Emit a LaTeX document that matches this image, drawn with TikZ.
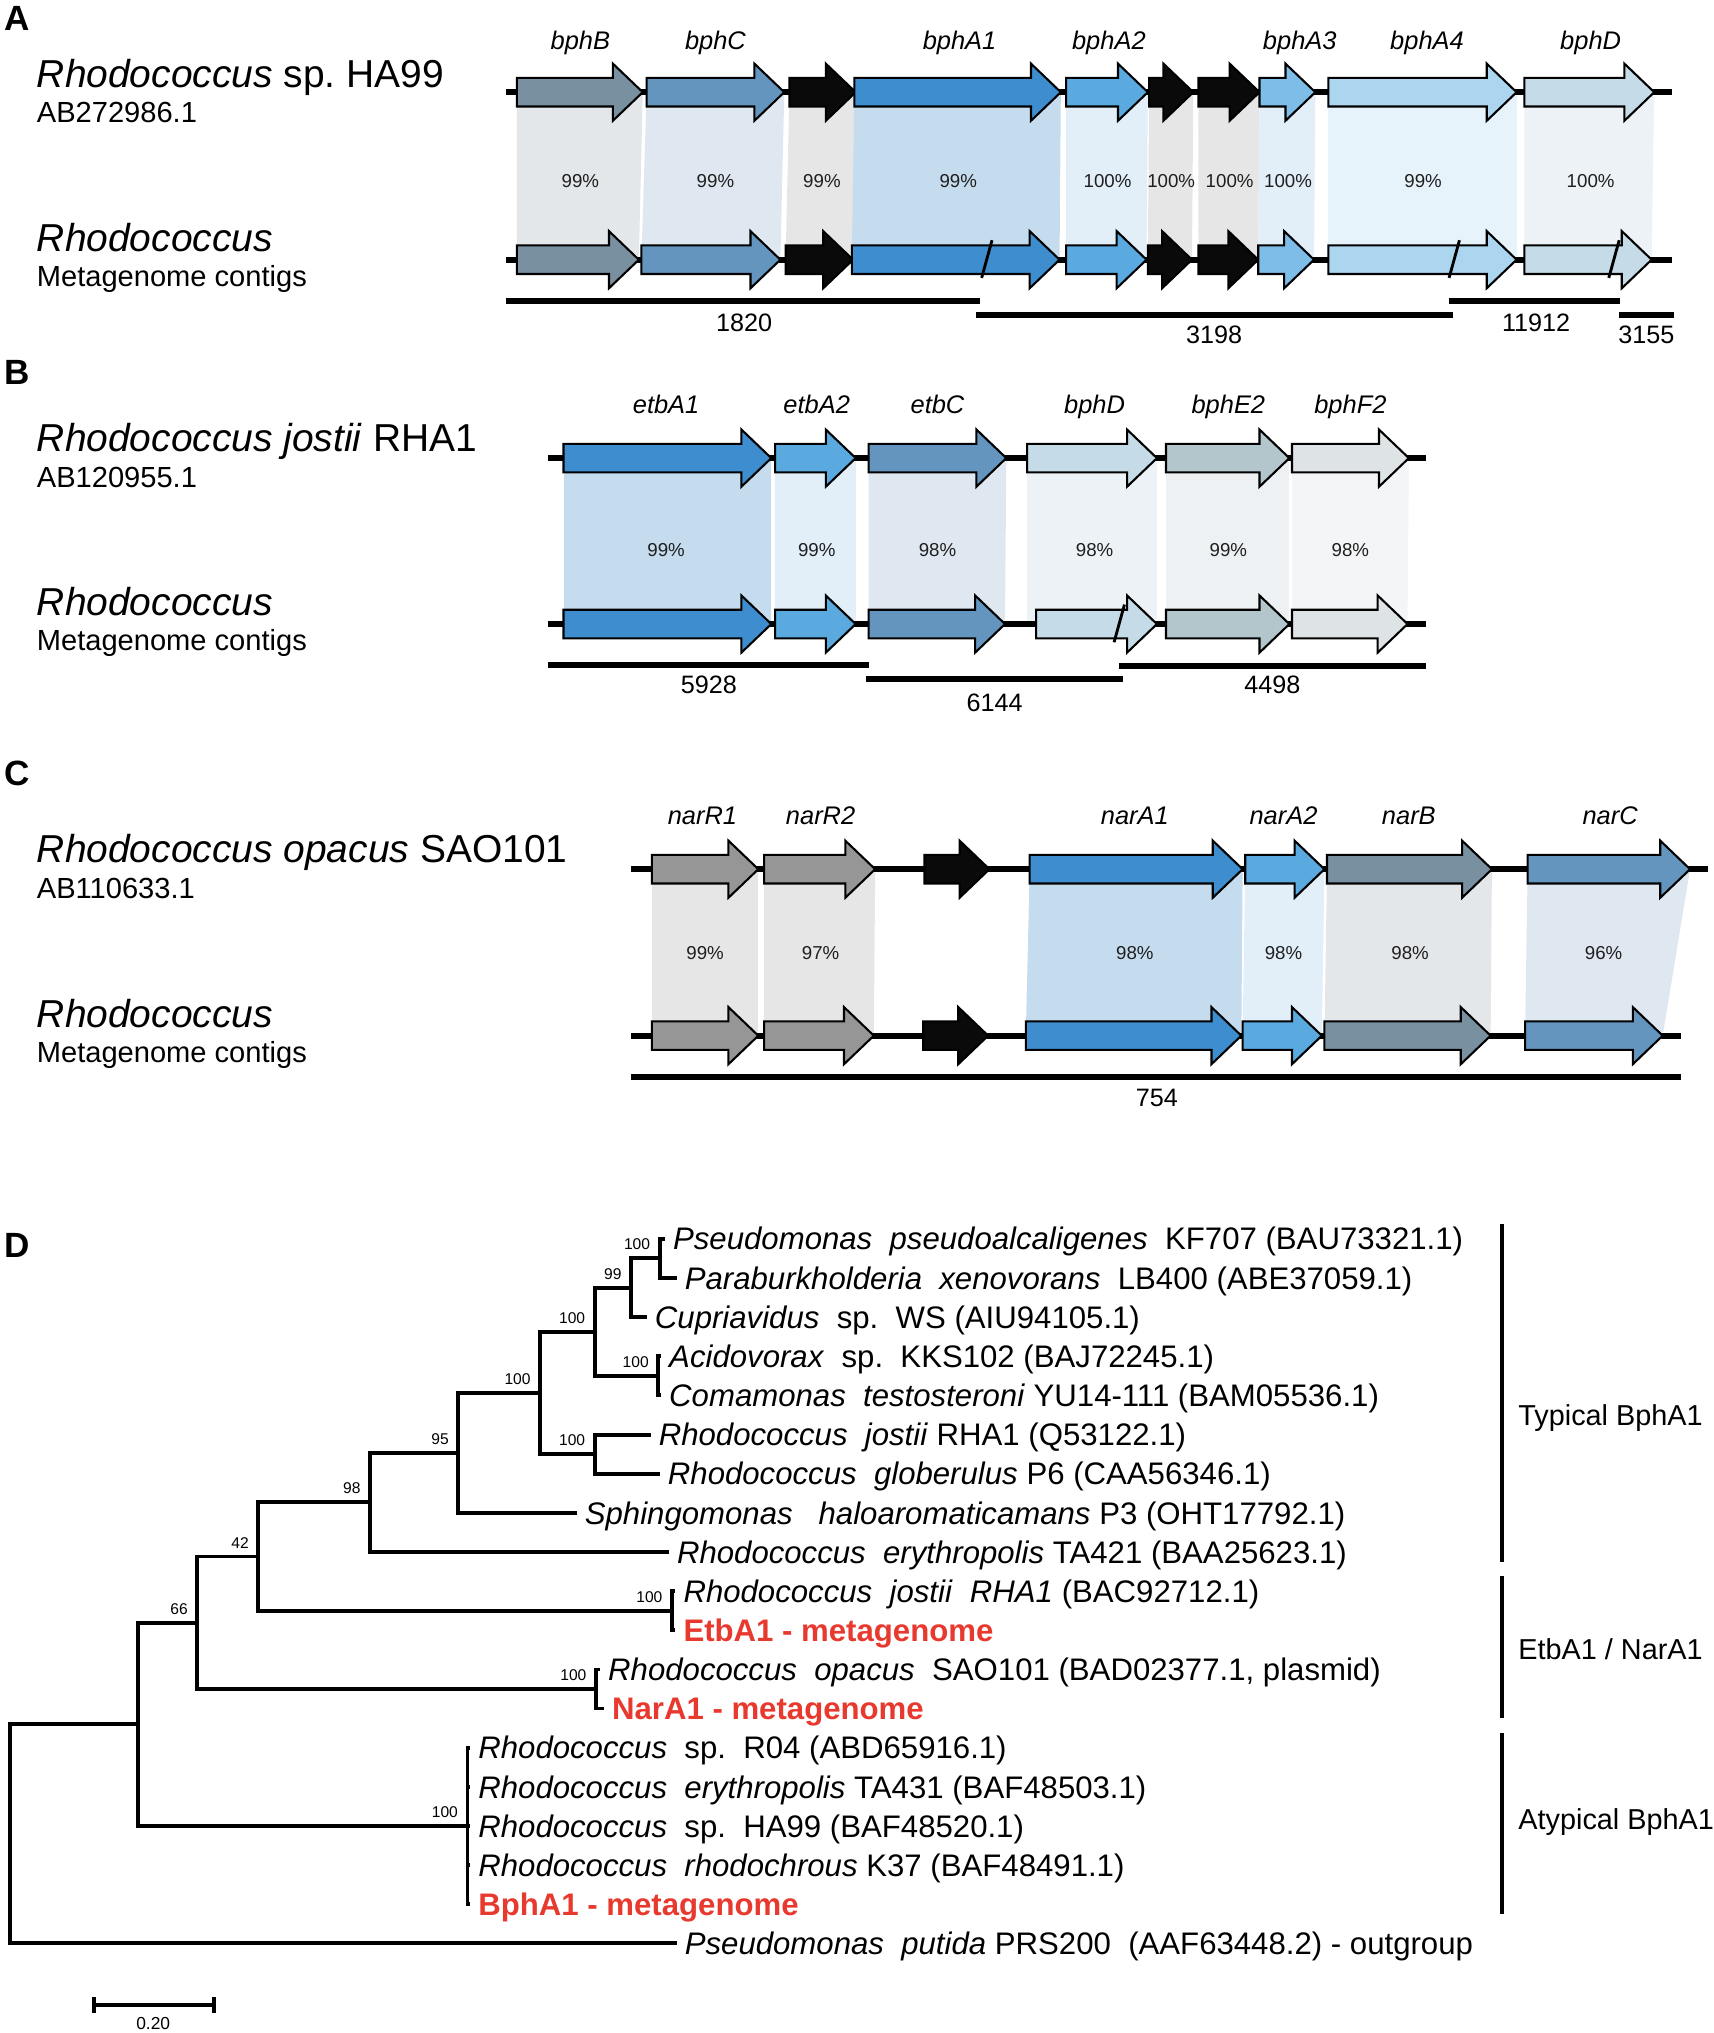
\documentclass[tikz,border=0pt]{standalone}
\usepackage{fontspec}
\setmainfont{Liberation Sans}
\usepackage{xcolor}
\frenchspacing

% gene colours
\definecolor{cdark}{HTML}{3D8DCF}
\definecolor{cmid}{HTML}{5AAAE0}
\definecolor{clight}{HTML}{7FBDE9}
\definecolor{cpale}{HTML}{ACD5EF}
\definecolor{cbphD}{HTML}{C5DCE8}
\definecolor{cslate}{HTML}{7890A0}
\definecolor{csteel}{HTML}{6395BF}
\definecolor{cbphE}{HTML}{B3C6CC}
\definecolor{cbphF}{HTML}{DEE3E6}
\definecolor{cgrey}{HTML}{969696}
\definecolor{cblack}{HTML}{0A0A0A}
% homology band colours
\definecolor{bdark}{HTML}{C5DCEF}
\definecolor{bmid}{HTML}{E2EFF9}
\definecolor{bpale}{HTML}{E6F3FB}
\definecolor{bbphD}{HTML}{ECF2F6}
\definecolor{bslate}{HTML}{E4E7EA}
\definecolor{bsteel}{HTML}{DFE8F0}
\definecolor{bgrey}{HTML}{E6E6E6}
\definecolor{bbphE}{HTML}{EEF1F3}
\definecolor{bbphF}{HTML}{F4F5F6}
\definecolor{metared}{HTML}{E8392F}

\newcommand{\genearrow}[4]{%
  \filldraw[fill=#1,draw=black,line width=0.8pt,line join=miter]
    (#2,#4-11) -- (#3-23,#4-11) -- (#3-23,#4-22) -- (#3,#4)
    -- (#3-23,#4+22) -- (#3-23,#4+11) -- (#2,#4+11) -- cycle;}
\newcommand{\homband}[7]{%
  \fill[#1] (#2,#6) -- (#3,#6) -- (#5,#7) -- (#4,#7) -- cycle;}
\newcommand{\cutmark}[2]{\draw[line width=1.1pt] (#1+4,#2-15) -- (#1-4,#2+14);}

\tikzset{
  track/.style={line width=2.2pt},
  contig/.style={line width=2.3pt},
  branch/.style={line width=1.5pt},
  panel/.style={font=\fontsize{13.5}{14}\selectfont\bfseries, inner sep=0pt},
  strain/.style={font=\fontsize{15}{16}\selectfont, anchor=base west, inner sep=0pt},
  accno/.style={font=\fontsize{11.2}{12}\selectfont, anchor=base west, inner sep=0pt},
  genename/.style={font=\fontsize{9.8}{10}\selectfont\itshape, anchor=base, inner sep=0pt},
  ident/.style={font=\fontsize{7.2}{8}\selectfont, anchor=base, inner sep=0pt, text=black!88},
  contiglbl/.style={font=\fontsize{9.7}{10}\selectfont, anchor=base, inner sep=0pt},
  leaf/.style={font=\fontsize{12}{13}\selectfont, anchor=west, inner xsep=3pt, inner ysep=0pt, text height=8.6pt, text depth=0pt},
  metaleaf/.style={leaf, text=metared, font=\fontsize{12}{13}\selectfont\bfseries},
  boot/.style={font=\fontsize{6}{7}\selectfont, anchor=south east, inner sep=0pt, xshift=-3.5pt, yshift=3pt},
  clade/.style={font=\fontsize{11.1}{12}\selectfont, anchor=west, inner sep=0pt},
}

\begin{document}
\begin{tikzpicture}[x=0.5pt, y=-0.5pt]
\useasboundingbox (0,0) rectangle (1320,1565.7);

% ---------------- A
\node[panel] (pA) at (13,14) {A};
\node[strain] (sA1) at (28,67) {\textit{Rhodococcus} sp. HA99};
\node[accno] (aA1) at (28,94.5) {AB272986.1};
\node[strain] (sA2) at (28,194) {\textit{Rhodococcus}};
\node[accno] (aA2) at (28,221) {Metagenome contigs};
\homband{bslate}{398}{495}{398}{492}{71}{200}
\homband{bsteel}{498}{604}{494}{601}{71}{200}
\homband{bgrey}{608}{659}{605}{657}{71}{200}
\homband{bdark}{658}{817}{656}{816}{71}{200}
\homband{bmid}{821}{884}{821}{883}{71}{200}
\homband{bgrey}{885}{919}{884}{918}{71}{200}
\homband{bgrey}{923}{970}{923}{969}{71}{200}
\homband{bmid}{970}{1013}{969}{1012}{71}{200}
\homband{bpale}{1023}{1168}{1023}{1168}{71}{200}
\homband{bbphD}{1174}{1274}{1174}{1272}{71}{200}
\draw[track] (390,71) -- (1288,71);
\draw[track] (390,200) -- (1288,200);
\genearrow{cslate}{398}{495}{71}
\genearrow{csteel}{498}{604}{71}
\genearrow{cblack}{608}{659}{71}
\genearrow{cdark}{658}{817}{71}
\genearrow{cmid}{821}{884}{71}
\genearrow{cblack}{885}{919}{71}
\genearrow{cblack}{923}{970}{71}
\genearrow{clight}{970}{1013}{71}
\genearrow{cpale}{1023}{1168}{71}
\genearrow{cbphD}{1174}{1274}{71}
\genearrow{cslate}{398}{492}{200}
\genearrow{csteel}{494}{601}{200}
\genearrow{cblack}{605}{657}{200}
\genearrow{cdark}{656}{816}{200}
\genearrow{cmid}{821}{883}{200}
\genearrow{cblack}{884}{918}{200}
\genearrow{cblack}{923}{969}{200}
\genearrow{clight}{969}{1012}{200}
\genearrow{cpale}{1023}{1168}{200}
\genearrow{cbphD}{1174}{1272}{200}
\cutmark{760}{200}
\cutmark{1120}{200}
\cutmark{1243}{200}
\node[genename] (gA1) at (447,38) {bphB};
\node[genename] (gA2) at (551,38) {bphC};
\node[genename] (gA3) at (739,38) {bphA1};
\node[genename] (gA4) at (854,38) {bphA2};
\node[genename] (gA5) at (1001,38) {bphA3};
\node[genename] (gA6) at (1099,38) {bphA4};
\node[genename] (gA7) at (1225,38) {bphD};
\node[ident] (iA1) at (447,144.5) {99\%};
\node[ident] (iA2) at (551,144.5) {99\%};
\node[ident] (iA3) at (633,144.5) {99\%};
\node[ident] (iA4) at (738,144.5) {99\%};
\node[ident] (iA5) at (853,144.5) {100\%};
\node[ident] (iA6) at (902,144.5) {100\%};
\node[ident] (iA7) at (947,144.5) {100\%};
\node[ident] (iA8) at (992,144.5) {100\%};
\node[ident] (iA9) at (1096,144.5) {99\%};
\node[ident] (iA10) at (1225,144.5) {100\%};
\draw[contig] (390,232) -- (755,232);
\draw[contig] (752,242.5) -- (1119,242.5);
\draw[contig] (1116,232) -- (1248,232);
\draw[contig] (1247,242.5) -- (1289,242.5);
\node[contiglbl] (cA1) at (573,255.4) {1820};
\node[contiglbl] (cA2) at (935,264.4) {3198};
\node[contiglbl] (cA3) at (1183,255.4) {11912};
\node[contiglbl] (cA4) at (1268,264.4) {3155};

% ---------------- B
\node[panel] (pB) at (13,287) {B};
\node[strain] (sB1) at (28,348) {\textit{Rhodococcus jostii} RHA1};
\node[accno] (aB1) at (28,375.3) {AB120955.1};
\node[strain] (sB2) at (28,474) {\textit{Rhodococcus}};
\node[accno] (aB2) at (28,501) {Metagenome contigs};
\homband{bdark}{434}{594}{434}{594}{352.8}{480.6}
\homband{bmid}{597}{659}{597}{659}{352.8}{480.6}
\homband{bsteel}{669}{775}{669}{774}{352.8}{480.6}
\homband{bbphD}{791}{891}{791}{891}{352.8}{480.6}
\homband{bbphE}{898}{993}{898}{993}{352.8}{480.6}
\homband{bbphF}{995}{1085}{995}{1084}{352.8}{480.6}
\draw[track] (422,352.8) -- (1098,352.8);
\draw[track] (422,480.6) -- (1098,480.6);
\genearrow{cdark}{434}{594}{352.8}
\genearrow{cmid}{597}{659}{352.8}
\genearrow{csteel}{669}{775}{352.8}
\genearrow{cbphD}{791}{891}{352.8}
\genearrow{cbphE}{898}{993}{352.8}
\genearrow{cbphF}{995}{1085}{352.8}
\genearrow{cdark}{434}{594}{480.6}
\genearrow{cmid}{597}{659}{480.6}
\genearrow{csteel}{669}{774}{480.6}
\genearrow{cbphD}{798}{891}{480.6}
\genearrow{cbphE}{898}{993}{480.6}
\genearrow{cbphF}{995}{1084}{480.6}
\cutmark{862}{480.6}
\node[genename] (gB1) at (513,318.5) {etbA1};
\node[genename] (gB2) at (629,318.5) {etbA2};
\node[genename] (gB3) at (722,318.5) {etbC};
\node[genename] (gB4) at (843,318.5) {bphD};
\node[genename] (gB5) at (946,318.5) {bphE2};
\node[genename] (gB6) at (1040,318.5) {bphF2};
\node[ident] (iB1) at (513,428.7) {99\%};
\node[ident] (iB2) at (629,428.7) {99\%};
\node[ident] (iB3) at (722,428.7) {98\%};
\node[ident] (iB4) at (843,428.7) {98\%};
\node[ident] (iB5) at (946,428.7) {99\%};
\node[ident] (iB6) at (1040,428.7) {98\%};
\draw[contig] (422,512) -- (669,512);
\draw[contig] (667,523) -- (865,523);
\draw[contig] (862,512.6) -- (1098,512.6);
\node[contiglbl] (cB1) at (546,533.8) {5928};
\node[contiglbl] (cB2) at (766,547.6) {6144};
\node[contiglbl] (cB3) at (980,534) {4498};

% ---------------- C
\node[panel] (pC) at (13,596) {C};
\node[strain] (sC1) at (28,664) {\textit{Rhodococcus opacus} SAO101};
\node[accno] (aC1) at (28,692) {AB110633.1};
\node[strain] (sC2) at (28,791) {\textit{Rhodococcus}};
\node[accno] (aC2) at (28,818) {Metagenome contigs};
\homband{bgrey}{502}{584}{502}{584}{669.4}{797.6}
\homband{bgrey}{588.5}{674}{588.5}{673}{669.4}{797.6}
\homband{bdark}{793}{957}{790}{956}{669.4}{797.6}
\homband{bmid}{959}{1020}{957}{1018}{669.4}{797.6}
\homband{bslate}{1022}{1149}{1020}{1148}{669.4}{797.6}
\homband{bsteel}{1176.5}{1301.6}{1174.5}{1280.5}{669.4}{797.6}
\draw[track] (486,669.4) -- (1315.6,669.4);
\draw[track] (486,797.6) -- (1294.6,797.6);
\genearrow{cgrey}{502}{584}{669.4}
\genearrow{cgrey}{588.5}{674}{669.4}
\genearrow{cblack}{712}{762}{669.4}
\genearrow{cdark}{793}{957}{669.4}
\genearrow{cmid}{959}{1020}{669.4}
\genearrow{cslate}{1022}{1149}{669.4}
\genearrow{csteel}{1176.5}{1301.6}{669.4}
\genearrow{cgrey}{502}{584}{797.6}
\genearrow{cgrey}{588.5}{673}{797.6}
\genearrow{cblack}{711}{761}{797.6}
\genearrow{cdark}{790}{956}{797.6}
\genearrow{cmid}{957}{1018}{797.6}
\genearrow{cslate}{1020}{1148}{797.6}
\genearrow{csteel}{1174.5}{1280.5}{797.6}
\node[genename] (gC1) at (541,634.6) {narR1};
\node[genename] (gC2) at (632,634.6) {narR2};
\node[genename] (gC3) at (874,634.6) {narA1};
\node[genename] (gC4) at (988.5,634.6) {narA2};
\node[genename] (gC5) at (1085,634.6) {narB};
\node[genename] (gC6) at (1240,634.6) {narC};
\node[ident] (iC1) at (543,738.6) {99\%};
\node[ident] (iC2) at (632,738.6) {97\%};
\node[ident] (iC3) at (874,738.6) {98\%};
\node[ident] (iC4) at (988.5,738.6) {98\%};
\node[ident] (iC5) at (1086,738.6) {98\%};
\node[ident] (iC6) at (1235,738.6) {96\%};
\draw[contig] (486,829.4) -- (1294.6,829.4);
\node[contiglbl] (cC1) at (891,852.3) {754};

% ---------------- D
\node[panel] (pD) at (13,959) {D};
\node[leaf] (lf1) at (512,954) {\textit{Pseudomonas}~~\textit{pseudoalcaligenes}~~KF707 (BAU73321.1)};
\node[leaf] (lf2) at (521,984.2) {\textit{Paraburkholderia}~~\textit{xenovorans}~~LB400 (ABE37059.1)};
\node[leaf] (lf3) at (498,1014.3) {\textit{Cupriavidus}~~sp.~~WS (AIU94105.1)};
\node[leaf] (lf4) at (509,1044.5) {\textit{Acidovorax}~~sp.~~KKS102 (BAJ72245.1)};
\node[leaf] (lf5) at (509,1074.6) {\textit{Comamonas}~~\textit{testosteroni} YU14-111 (BAM05536.1)};
\node[leaf] (lf6) at (501,1104.8) {\textit{Rhodococcus}~~\textit{jostii} RHA1 (Q53122.1)};
\node[leaf] (lf7) at (508,1134.9) {\textit{Rhodococcus}~~\textit{globerulus} P6 (CAA56346.1)};
\node[leaf] (lf8) at (444,1165.1) {\textit{Sphingomonas}~~~\textit{haloaromaticamans} P3 (OHT17792.1)};
\node[leaf] (lf9) at (515,1195.2) {\textit{Rhodococcus}~~\textit{erythropolis} TA421 (BAA25623.1)};
\node[leaf] (lf10) at (520,1225.4) {\textit{Rhodococcus}~~\textit{jostii}~~\textit{RHA1} (BAC92712.1)};
\node[metaleaf] (lf11) at (520,1255.5) {EtbA1 - metagenome};
\node[leaf] (lf12) at (462,1285.7) {\textit{Rhodococcus}~~\textit{opacus}~~SAO101 (BAD02377.1, plasmid)};
\node[metaleaf] (lf13) at (465,1315.8) {NarA1 - metagenome};
\node[leaf] (lf14) at (362,1346) {\textit{Rhodococcus}~~sp.~~R04 (ABD65916.1)};
\node[leaf] (lf15) at (362,1376.1) {\textit{Rhodococcus}~~\textit{erythropolis} TA431 (BAF48503.1)};
\node[leaf] (lf16) at (362,1406.3) {\textit{Rhodococcus}~~sp.~~HA99 (BAF48520.1)};
\node[leaf] (lf17) at (362,1436.4) {\textit{Rhodococcus}~~\textit{rhodochrous} K37 (BAF48491.1)};
\node[metaleaf] (lf18) at (362,1466.6) {BphA1 - metagenome};
\node[leaf] (lf19) at (521,1496.7) {\textit{Pseudomonas}~~\textit{putida} PRS200~~(AAF63448.2) - outgroup};
\coordinate (n1) at (508,969.1);
\coordinate (n2) at (486,991.7);
\coordinate (n3) at (458,1025.6);
\coordinate (n4) at (507,1059.5);
\coordinate (n5) at (416,1072.7);
\coordinate (n6) at (458,1119.8);
\coordinate (n7) at (353,1118.9);
\coordinate (n8) at (285,1157);
\coordinate (n9) at (199,1198.7);
\coordinate (n10) at (517.5,1240.4);
\coordinate (n11) at (152,1249.7);
\coordinate (n12) at (459,1300.7);
\coordinate (n13) at (106,1328);
\coordinate (n14) at (360,1406.3);
\coordinate (root) at (7.6,1412.4);
\draw[branch] (lf1.west) -| (n1) |- (lf2.west);
\draw[branch] (n1) -| (n2) |- (lf3.west);
\draw[branch] (lf4.west) -| (n4) |- (lf5.west);
\draw[branch] (n2) -| (n3) |- (n4);
\draw[branch] (lf6.west) -| (n6) |- (lf7.west);
\draw[branch] (n3) -| (n5) |- (n6);
\draw[branch] (n5) -| (n7) |- (lf8.west);
\draw[branch] (n7) -| (n8) |- (lf9.west);
\draw[branch] (lf10.west) -| (n10) |- (lf11.west);
\draw[branch] (n8) -| (n9) |- (n10);
\draw[branch] (lf12.west) -| (n12) |- (lf13.west);
\draw[branch] (n9) -| (n11) |- (n12);
\draw[branch] (lf14.west) -| (n14) |- (lf18.west);
\draw[branch] (n14 |- lf15.west) -- (lf15.west);
\draw[branch] (n14 |- lf16.west) -- (lf16.west);
\draw[branch] (n14 |- lf17.west) -- (lf17.west);
\draw[branch] (n11) -| (n13) |- (n14);
\draw[branch] (n13) -| (root) |- (lf19.west);
\node[boot] (bs1) at (n1) {100};
\node[boot] (bs2) at (n2) {99};
\node[boot] (bs3) at (n3) {100};
\node[boot] (bs4) at (n4) {100};
\node[boot] (bs5) at (n5) {100};
\node[boot] (bs6) at (n6) {100};
\node[boot] (bs7) at (n7) {95};
\node[boot] (bs8) at (n8) {98};
\node[boot] (bs9) at (n9) {42};
\node[boot] (bs10) at (n10) {100};
\node[boot] (bs11) at (n11) {66};
\node[boot] (bs12) at (n12) {100};
\node[boot] (bs14) at (n14) {100};
% clades
\draw[branch] (1157,943) -- (1157,1203);
\draw[branch] (1157,1214) -- (1157,1323);
\draw[branch] (1157,1335) -- (1157,1474);
\node[clade] (cl1) at (1169,1092) {Typical BphA1};
\node[clade] (cl2) at (1169,1270) {EtbA1 / NarA1};
\node[clade] (cl3) at (1169,1403) {Atypical BphA1};
% scale
\coordinate (sb0) at (72.7,1544);
\coordinate (sb1) at (164.8,1544);
\draw[branch] (sb0) -- (sb1);
\draw[branch] ([yshift=3pt]sb0) -- ([yshift=-3pt]sb0);
\draw[branch] ([yshift=3pt]sb1) -- ([yshift=-3pt]sb1);
\node[font=\fontsize{6.7}{7}\selectfont, inner sep=0pt] (sblbl) at (118,1558) {0.20};
\end{tikzpicture}
\end{document}
